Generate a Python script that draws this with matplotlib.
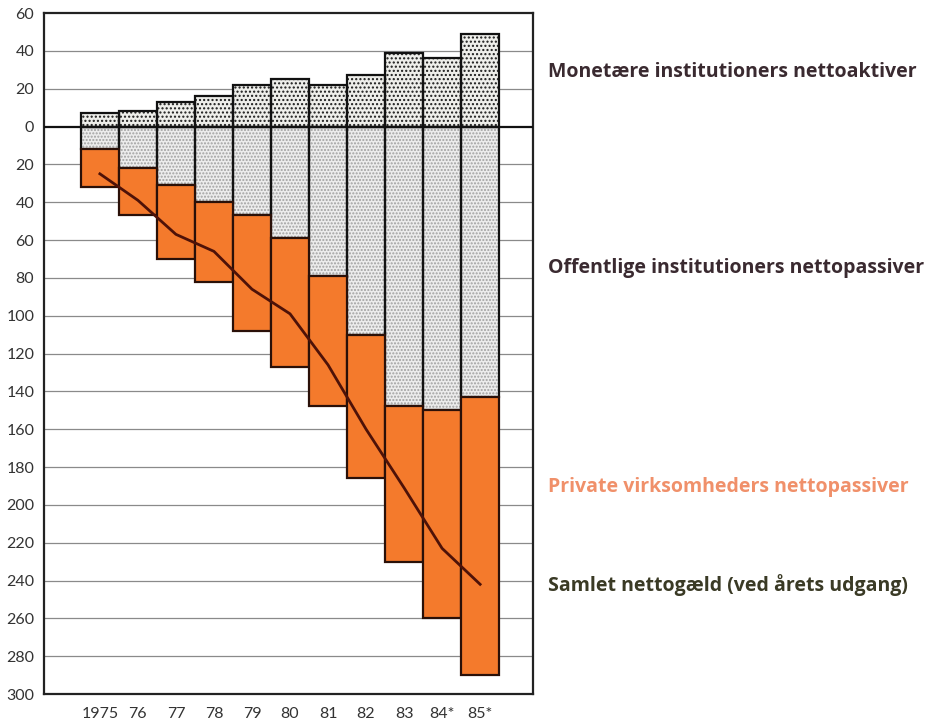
import matplotlib
matplotlib.use('Agg')
import matplotlib.pyplot as plt
import numpy as np

plt.rcParams['font.family'] = ['Lato', 'DejaVu Sans']

years = ['1975', '76', '77', '78', '79', '80', '81', '82', '83', '84*', '85*']
monetaere = [7, 8, 13, 16, 22, 25, 22, 27, 39, 36, 49]          # above zero
offentlige = [12, 22, 31, 40, 47, 59, 79, 110, 148, 150, 143]   # below zero
private = [20, 25, 39, 42, 61, 68, 69, 76, 82, 110, 147]        # below offentlige
samlet = [25, 39, 57, 66, 86, 99, 126, 160, 191, 223, 242]

x = np.arange(len(years))
off = -np.array(offentlige)
priv = -np.array(private)

fig = plt.figure(figsize=(9.3, 7.24), dpi=100)
ax = fig.add_axes([0.0473, 0.0414, 0.5258, 0.9406])

# gridlines
for v in range(-280, 60, 20):
    if v != 0:
        ax.axhline(v, color='#8a8a8a', lw=0.9, zorder=0)

w = 1.0
# monetary institutions - coarse dots
ax.bar(x, monetaere, w, color='#eeeeea', hatch='....', edgecolor='#1a1a1a', lw=0, zorder=2)
ax.bar(x, monetaere, w, fill=False, edgecolor='#111111', lw=1.6, zorder=3)
# public institutions - fine stipple
ax.bar(x, off, w, color='#ececec', hatch='.....', edgecolor='#a0a0a0', lw=0, zorder=2)
ax.bar(x, off, w, fill=False, edgecolor='#111111', lw=1.6, zorder=3)
# private companies
ax.bar(x, priv, w, bottom=off, color='#f47a2c', edgecolor='#2a1008', lw=1.6, zorder=3)

ax.plot(x, -np.array(samlet), color='#4e1208', lw=2.0, zorder=4)
ax.axhline(0, color='#111111', lw=1.6, zorder=5)

ax.set_xlim(-1.47, 11.39)
ax.set_ylim(-300, 60)
ax.set_yticks(range(-300, 61, 20))
ax.set_yticklabels([str(abs(v)) for v in range(-300, 61, 20)])
ax.set_xticks(x)
ax.set_xticklabels(years)
ax.tick_params(axis='y', length=0, pad=7, labelsize=11.5, labelcolor='#333333')
ax.tick_params(axis='x', length=0, pad=9, labelsize=11.5, labelcolor='#333333')
for s in ax.spines.values():
    s.set_linewidth(1.6)
    s.set_color('#222222')

labels = [
    ("Monetære institutioners nettoaktiver", 72, '#3a2a30'),
    ("Offentlige institutioners nettopassiver", 268, '#3a2a30'),
    ("Private virksomheders nettopassiver", 487, '#f0906a'),
    ("Samlet nettogæld (ved årets udgang)", 585, '#3a3a25'),
]
for txt, ypx, col in labels:
    fig.text(548 / 930, 1 - ypx / 724, txt, fontsize=14, fontweight='bold',
             family=['Open Sans', 'DejaVu Sans'], color=col, ha='left', va='center')

plt.savefig('out.png', dpi=100)
